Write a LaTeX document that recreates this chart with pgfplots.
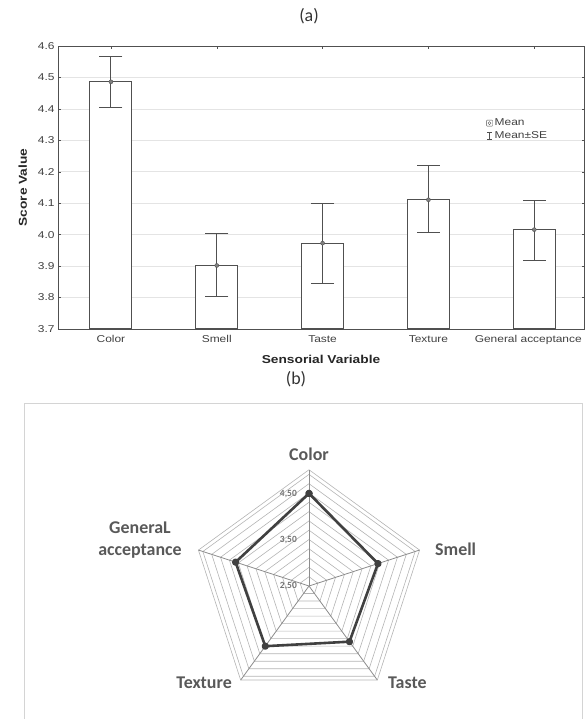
\documentclass[border=0pt]{standalone}
\usepackage{pgfplots}
\pgfplotsset{compat=1.18}
\usepackage{pgfplotstable}
\usepackage{fontspec}
\setmainfont{Liberation Sans}
\newfontfamily\arw{Liberation Sans}[FakeStretch=1.2]
\newfontfamily\calf{Carlito}
\definecolor{dg}{HTML}{505050}
\definecolor{lg}{HTML}{E4E4E4}
\definecolor{rg}{HTML}{B4B4B4}
\definecolor{sg}{HTML}{8C8C8C}
\definecolor{tg}{HTML}{595959}
\definecolor{ln}{HTML}{404040}
\definecolor{fr}{HTML}{D4D4D4}

\pgfplotstableread{
x m hi lo
0 4.486 4.566 4.404
1 3.902 4.003 3.804
2 3.973 4.100 3.846
3 4.111 4.219 4.007
4 4.016 4.109 3.918
}\bars

\pgfplotstableread{
a v
90 4.49
18 4.06
-54 3.98
-126 4.10
162 4.16
90 4.49
}\radar

\begin{document}
\begin{tikzpicture}
\useasboundingbox (0,0) rectangle (585bp,719bp);
\node[font=\calf\fontsize{18}{21}\selectfont, text=black!80] at (309bp,703bp) {(a)};
\begin{axis}[
 at={(58bp,390bp)}, anchor=south west, scale only axis, width=526bp, height=283bp,
 xmin=-0.5, xmax=4.47, ymin=3.7, ymax=4.6,
 xtick={0,1,2,3,4}, xticklabels={Color,Smell,Taste,Texture,{\kern-12bp General acceptance}},
 ytick={3.7,3.8,3.9,4.0,4.1,4.2,4.3,4.4,4.5,4.6},
 yticklabel style={/pgf/number format/fixed, /pgf/number format/fixed zerofill, /pgf/number format/precision=1, /pgf/number format/assume math mode=true},
 ticklabel style={font=\arw\fontsize{10}{12}\selectfont, text=black!75},
 xticklabel style={yshift=-3bp},
 tick align=inside, major tick length=2.5bp, tick style={dg, line width=0.5bp},
 ymajorgrids, grid style={lg, line width=0.7bp},
 axis line style={dg, line width=0.9bp},
 xlabel={Sensorial Variable}, ylabel={Score Value},
 xlabel style={yshift=-4bp},
 ylabel style={yshift=4bp},
 label style={font=\arw\bfseries\fontsize{11.5}{13}\selectfont, text=black!85},
 legend style={at={(rel axis cs:0.814,0.75)}, anchor=north west, draw=none, fill=none,
   font=\arw\fontsize{10}{11}\selectfont, row sep=0bp, inner sep=0pt, text=black!75},
 legend cell align=left,
]
\addplot[ybar, bar width=42bp, fill=white, draw=dg, line width=1bp, forget plot] table[x=x,y=m]{\bars};
\addplot[only marks, mark=*, mark size=2bp, mark options={fill=gray, draw=dg}, forget plot,
  error bars/.cd, y dir=both, y explicit, error mark=none, error bar style={dg, line width=1bp}]
  table[x=x, y=m, y error plus expr=\thisrow{hi}-\thisrow{m}, y error minus expr=\thisrow{m}-\thisrow{lo}]{\bars};
\addplot[only marks, mark=-, mark size=11.5bp, mark options={dg, line width=1bp}, forget plot] table[x=x,y=hi]{\bars};
\addplot[only marks, mark=-, mark size=11.5bp, mark options={dg, line width=1bp}, forget plot] table[x=x,y=lo]{\bars};
\addlegendimage{legend image code/.code={\draw[dg, fill=white, rounded corners=0.6pt] (0.1cm,-3pt) rectangle (0.1cm+6pt,3pt); \draw[dg] (0.1cm+3pt,0) circle (1.5pt);}}
\addlegendentry{Mean}
\addlegendimage{legend image code/.code={\draw[dg] (0.1cm+3pt,-3.5pt)--(0.1cm+3pt,3.5pt) (0.1cm+0.8pt,3.5pt)--(0.1cm+5.2pt,3.5pt) (0.1cm+0.8pt,-3.5pt)--(0.1cm+5.2pt,-3.5pt);}}
\addlegendentry{Mean±SE}
\end{axis}

\node[font=\calf\fontsize{18}{21}\selectfont, text=black!80] at (296bp,340bp) {(b)};
\draw[fr, line width=1bp] (24bp,-5bp) rectangle (582bp,315bp);

\begin{axis}[at={(309bp,133bp)}, anchor=origin, x=46.5bp, y=46.5bp, hide axis,
  xmin=-2.6, xmax=2.6, ymin=-2.6, ymax=2.6, data cs=polar, clip=false]
\pgfplotsinvokeforeach{0.2,0.4,0.6,0.8,1.0,1.2,1.4,1.6,1.8,2.0,2.2,2.4,2.5}{
 \addplot[rg, line width=0.6bp, mark=none] coordinates {(90,#1) (18,#1) (-54,#1) (-126,#1) (162,#1) (90,#1)};
}
\pgfplotsinvokeforeach{90,18,-54,-126,162}{
 \addplot[sg, line width=0.8bp, mark=none] coordinates {(#1,0) (#1,2.5)};
}
\addplot[ln, line width=2.6bp, mark=*, mark size=2.3bp, line join=round] table[x=a, y expr=\thisrow{v}-2.5]{\radar};
\end{axis}

\begin{scope}[every node/.style={font=\calf\bfseries\fontsize{18}{23}\selectfont, text=tg, inner sep=0pt}]
\node at (309bp,265bp) {Color};
\node[anchor=west] at (435bp,170bp) {Smell};
\node[anchor=west] at (388bp,36bp) {Taste};
\node[anchor=east] at (232bp,36bp) {Texture};
\node[align=center] at (140bp,179bp) {GeneraL\\acceptance};
\end{scope}
\begin{scope}[every node/.style={font=\calf\bfseries\fontsize{9.5}{11}\selectfont, text=black!55, inner sep=0pt, anchor=east}]
\node at (297bp,225bp) {4,50};
\node at (297bp,179bp) {3,50};
\node at (297bp,133bp) {2,50};
\end{scope}
\end{tikzpicture}
\end{document}
